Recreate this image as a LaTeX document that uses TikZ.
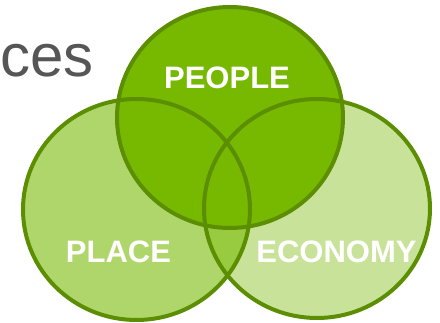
\documentclass[tikz,border=0pt]{standalone}
\usepackage{fontspec}
\setmainfont{Liberation Sans}
\definecolor{leaf}{HTML}{76B900}
\definecolor{rim}{HTML}{5B8E00}
\definecolor{ink}{HTML}{565656}

\begin{document}
\begin{tikzpicture}[x=1pt,y=1pt,
    ring/.style = {draw=rim, line width=4pt},
    word/.style = {text=white, font=\fontsize{31}{31}\selectfont\bfseries, inner sep=0pt}]
        \useasboundingbox (0,0) rectangle (440,323);
        % fills first, then the rims on top
        \fill[leaf, fill opacity=0.58] (136.5,113.5) ellipse [x radius=113.5, y radius=110.5];
        \fill[leaf, fill opacity=0.40] (317,114.5) ellipse [x radius=113, y radius=109.5];
        \fill[leaf] (230,205.5) ellipse [x radius=113, y radius=110.5];
        \draw[ring] (136.5,113.5) ellipse [x radius=113.5, y radius=110.5];
        \draw[ring] (317,114.5) ellipse [x radius=113, y radius=109.5];
        \draw[ring] (230,205.5) ellipse [x radius=113, y radius=110.5];
        \node[anchor=base west, inner sep=0pt, text=ink, font=\fontsize{60}{60}\selectfont] (title) at (0,246.5) {ces};
        \node[word] (people) at (227,245) {PEOPLE};
        \node[word] (place) at (118.5,71.5) {PLACE};
        \node[word] (economy) at (336.5,71.5) {ECONOMY};
\end{tikzpicture}
\end{document}
